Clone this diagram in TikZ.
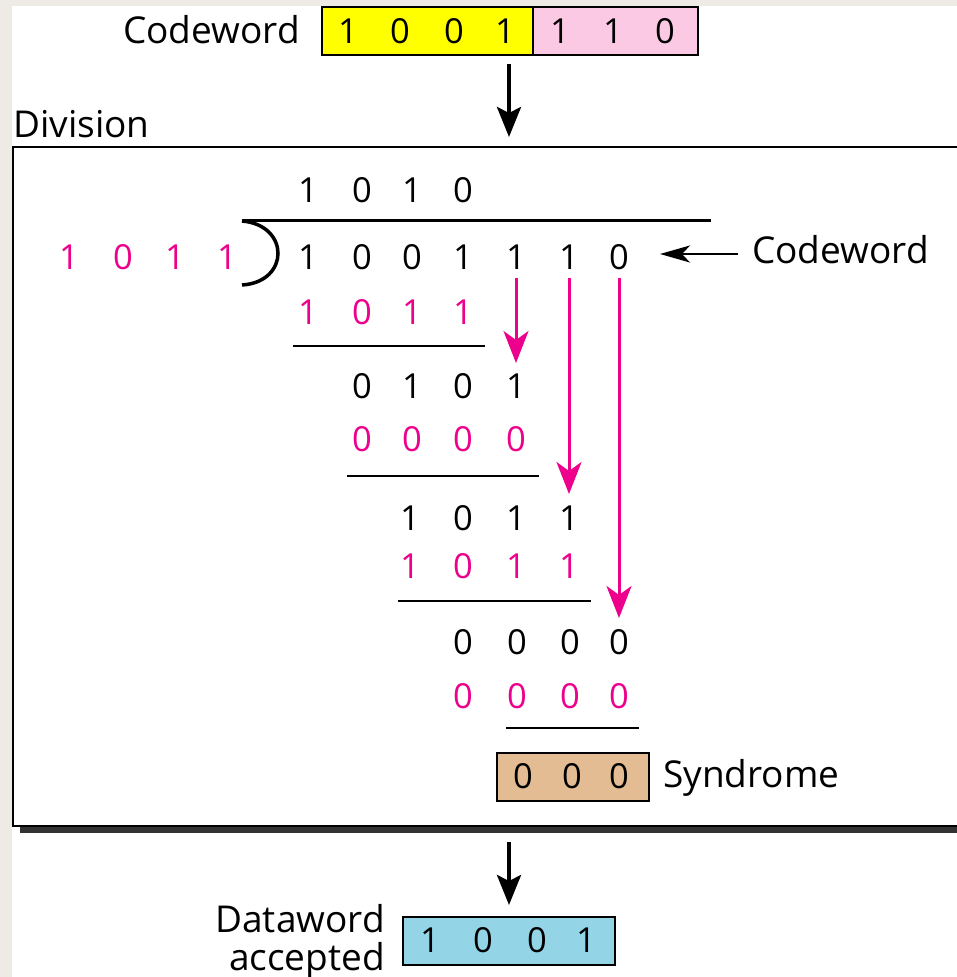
\documentclass[tikz,border=0pt]{standalone}
\usepackage{fontspec}
\setmainfont{Open Sans}
\usetikzlibrary{arrows.meta}
\definecolor{bgbeige}{HTML}{EEEBE5}
\definecolor{mag}{HTML}{EC008C}
\definecolor{cwyellow}{HTML}{FFFF00}
\definecolor{cwpink}{HTML}{FCC9E5}
\definecolor{syntan}{HTML}{E4BC93}
\definecolor{dwblue}{HTML}{93D5E6}
\definecolor{shadowgray}{HTML}{333333}
\begin{document}
\begin{tikzpicture}[x=1pt,y=-1pt,
  lbl/.style={font=\fontsize{37}{44}\selectfont, inner sep=0pt},
  dig/.style={font=\fontsize{34.5}{40}\selectfont, inner sep=0pt},
  bk/.style={dig, text=black},
  pk/.style={dig, text=mag},
  rule/.style={line width=2.5pt},
  bigarrow/.style={line width=4pt, -{Stealth[length=30pt,width=24pt,inset=6pt]}},
  thinarrow/.style={line width=2pt, -{Stealth[length=30pt,width=17pt,inset=8pt]}},
  pinkarrow/.style={draw=mag, line width=3pt, -{Stealth[length=32pt,width=25pt,inset=9pt]}},
  bitbox/.style={draw, line width=2pt, inner sep=0pt, minimum height=48pt}]
\useasboundingbox (0,0) rectangle (957,977);
\fill[bgbeige] (0,0) rectangle (957,977);
\fill[white] (12,6) rectangle (957,977);

% top codeword
\node[bitbox, fill=cwyellow, minimum width=211pt] (cwa) at (427.5,31) {};
\node[bitbox, fill=cwpink, minimum width=165pt] (cwb) at (615.5,31) {};
\node[lbl, anchor=base east] (cwlbl) at (300,43) {Codeword};
\foreach \x/\d [count=\i] in {348/1,400/0,454/0,505/1,560/1,613/1,665/0}
  \node[bk] (t\i) at (\x,31) {\d};

\coordinate (topA) at (509,64);
\coordinate (topB) at (509,137);
\draw[bigarrow] (topA) -- (topB);

% division frame (right side runs off the picture)
\node[lbl, anchor=base west] (divlbl) at (13,137) {Division};
\fill[shadowgray] (20,826) rectangle (957,833);
\draw[line width=2.5pt] (957,147) -- (13,147) -- (13,826) -- (957,826);

% quotient
\foreach \x/\d [count=\i] in {308/1,362/0,412/1,463/0}
  \node[bk] (q\i) at (\x,190) {\d};
\draw[line width=3pt] (242,220) -- (711,220);
\draw[line width=3.5pt] (242,221) .. controls (290,225) and (290,282) .. (242,285);

% divisor
\foreach \x/\d [count=\i] in {69/1,123/0,175/1,227/1}
  \node[pk] (dv\i) at (\x,257) {\d};
% dividend
\foreach \x/\d [count=\i] in {308/1,362/0,412/0,463/1,516/1,569/1,619/0}
  \node[bk] (dd\i) at (\x,257) {\d};

\coordinate (cwA) at (738,254);
\coordinate (cwB) at (660,254);
\draw[thinarrow] (cwA) -- (cwB);
\node[lbl, anchor=base west] (cwlbl2) at (752,263) {Codeword};

% partial results
\foreach \x/\d [count=\i] in {308/1,362/0,412/1,463/1}
  \node[pk] (r3\i) at (\x,312) {\d};
\draw[rule] (293,346) -- (485,346);
\foreach \x/\d [count=\i] in {362/0,412/1,463/0,516/1}
  \node[bk] (r4\i) at (\x,386) {\d};
\foreach \x/\d [count=\i] in {362/0,412/0,463/0,516/0}
  \node[pk] (r5\i) at (\x,439) {\d};
\draw[rule] (347,476) -- (539,476);
\foreach \x/\d [count=\i] in {410/1,463/0,516/1,569/1}
  \node[bk] (r6\i) at (\x,518) {\d};
\foreach \x/\d [count=\i] in {410/1,463/0,516/1,569/1}
  \node[pk] (r7\i) at (\x,566) {\d};
\draw[rule] (398,601) -- (591,601);
\foreach \x/\d [count=\i] in {463/0,517/0,570/0,619/0}
  \node[bk] (r8\i) at (\x,642) {\d};
\foreach \x/\d [count=\i] in {463/0,517/0,570/0,619/0}
  \node[pk] (r9\i) at (\x,696) {\d};
\draw[rule] (506,728) -- (639,728);

% pink arrows
\coordinate (p1a) at (516,278); \coordinate (p1b) at (516,363);
\coordinate (p2a) at (569,278); \coordinate (p2b) at (569,494);
\coordinate (p3a) at (619,278); \coordinate (p3b) at (619,618);
\draw[pinkarrow] (p1a) -- (p1b);
\draw[pinkarrow] (p2a) -- (p2b);
\draw[pinkarrow] (p3a) -- (p3b);

% syndrome
\node[bitbox, fill=syntan, minimum width=152pt] (syn) at (573,777) {};
\foreach \x/\d [count=\i] in {523/0,572/0,619/0}
  \node[bk] (s\i) at (\x,776) {\d};
\node[lbl, anchor=base west] (synlbl) at (663,787) {Syndrome};

% bottom
\coordinate (botA) at (509,842);
\coordinate (botB) at (509,905);
\draw[bigarrow] (botA) -- (botB);
\node[bitbox, fill=dwblue, minimum width=212pt] (dw) at (509,941) {};
\foreach \x/\d [count=\i] in {430/1,483/0,537/0,586/1}
  \node[bk] (w\i) at (\x,940) {\d};
\node[lbl, anchor=base east] (dwl1) at (385,932) {Dataword};
\node[lbl, anchor=base east] (dwl2) at (385,970) {accepted};
\end{tikzpicture}
\end{document}
